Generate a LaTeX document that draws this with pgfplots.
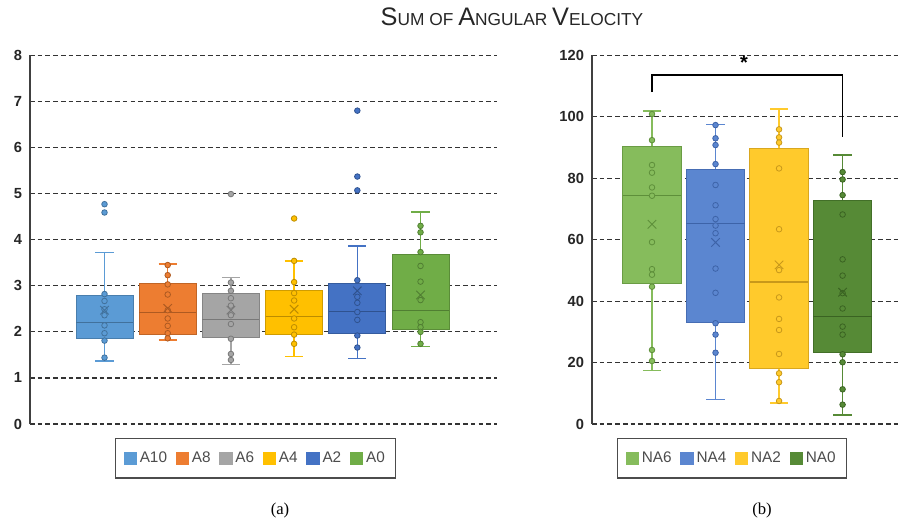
\documentclass[border=0pt]{standalone}
\usepackage{pgfplots}
\pgfplotsset{compat=1.18}
\usepgfplotslibrary{statistics}
\usepackage{fontspec}
\setmainfont{Liberation Sans}
\newfontfamily\timesfont{Liberation Serif}

\definecolor{cA10}{HTML}{5B9BD5}\definecolor{dA10}{HTML}{41719C}
\definecolor{cA8}{HTML}{ED7D31}\definecolor{dA8}{HTML}{AE5A21}
\definecolor{cA6}{HTML}{A5A5A5}\definecolor{dA6}{HTML}{787878}
\definecolor{cA4}{HTML}{FFC000}\definecolor{dA4}{HTML}{BC8C00}
\definecolor{cA2}{HTML}{4472C4}\definecolor{dA2}{HTML}{2F528F}
\definecolor{cA0}{HTML}{70AD47}\definecolor{dA0}{HTML}{507E32}
\definecolor{cNA6}{HTML}{86BC5C}\definecolor{dNA6}{HTML}{5E8F3A}
\definecolor{cNA4}{HTML}{5B86D0}\definecolor{dNA4}{HTML}{3D63A8}
\definecolor{cNA2}{HTML}{FFCA2C}\definecolor{dNA2}{HTML}{C8981A}
\definecolor{cNA0}{HTML}{568A36}\definecolor{dNA0}{HTML}{3A6322}

% pos, lw, lq, med, uq, uw, color, dark, box extend
\newcommand{\bp}[9]{%
 \addplot[forget plot, boxplot prepared={draw position=#1, lower whisker=#2, lower quartile=#3, median=#4, upper quartile=#5, upper whisker=#6, box extend=#9, whisker extend=0.29},
  boxplot/every box/.style={draw=#8!70!#7, fill=#7, line width=0.6pt},
  boxplot/every whisker/.style={draw=#7, line width=1.1pt},
  boxplot/every median/.style={draw=#8, line width=0.9pt}] coordinates {};
}

\pgfplotsset{
  common/.style={
    scale only axis, anchor=south west,
    height=276.5pt,
    ymin=0,
    boxplot/draw direction=y,
    xtick=\empty,
    axis x line=none,
    axis y line*=left,
    axis line style={black!75, line width=1.1pt, -},
    ymajorgrids,
    grid style={black!80, line width=0.9pt, dash pattern=on 3.5pt off 2.3pt},
    major tick length=0pt,
    /pgf/number format/assume math mode=true,
    tick label style={font=\fontsize{11}{13}\selectfont\bfseries, text=black!85},
    yticklabel style={xshift=-2.5pt},
    clip=false,
    legend image code/.code={\draw[##1] (0pt,-4.5pt) rectangle (9pt,4.5pt);},
    legend style={draw=black!70, line width=1.1pt, font=\fontsize{11.5}{13}\selectfont, text=black!70, inner xsep=6pt, inner ysep=8pt, anchor=north, /tikz/every even column/.append style={column sep=4.5pt}},
  },
  pts/.style 2 args={forget plot, only marks, mark=*, mark size=2.1pt, mark options={fill=#1, draw=#2, line width=0.6pt}},
  mn/.style={forget plot, only marks, mark=x, mark size=4.5pt, mark options={draw=#1, line width=0.7pt}},
}

\begin{document}
\begin{tikzpicture}
\useasboundingbox (0,0) rectangle (674.25pt,-393.75pt);

\node[anchor=base, text=black!85] at (384pt,-18.75pt) {\fontsize{19}{20}\selectfont S\fontsize{13}{14}\selectfont UM OF \fontsize{19}{20}\selectfont A\fontsize{13}{14}\selectfont NGULAR \fontsize{19}{20}\selectfont V\fontsize{13}{14}\selectfont ELOCITY};

\begin{axis}[common, at={(22.5pt,-318pt)}, width=350.25pt,
  xmin=-0.179, xmax=7.21, ymax=8, ytick={0,1,...,8},
  legend columns=6, legend style={at={(0.483,0)}, yshift=-10.5pt}]
\bp{1}{1.37}{1.85}{2.21}{2.80}{3.72}{cA10}{dA10}{0.9}
\addplot[pts={cA10}{dA10}] coordinates {(1,4.77) (1,4.59) (1,2.82) (1,2.67) (1,2.49) (1,2.36) (1,2.14) (1,1.97) (1,1.81) (1,1.44)};
\addplot[mn=dA10] coordinates {(1,2.47)};

\bp{2}{1.82}{1.94}{2.42}{3.05}{3.47}{cA8}{dA8}{0.9}
\addplot[pts={cA8}{dA8}] coordinates {(2,3.45) (2,3.23) (2,3.03) (2,2.81) (2,2.47) (2,2.29) (2,2.13) (2,1.97) (2,1.86)};
\addplot[mn=dA8] coordinates {(2,2.51)};

\bp{3}{1.29}{1.87}{2.27}{2.84}{3.18}{cA6}{dA6}{0.9}
\addplot[pts={cA6}{dA6}] coordinates {(3,4.99) (3,3.07) (3,2.89) (3,2.73) (3,2.57) (3,2.36) (3,2.17) (3,1.85) (3,1.52) (3,1.39)};
\addplot[mn=dA6] coordinates {(3,2.47)};

\bp{4}{1.46}{1.95}{2.33}{2.89}{3.54}{cA4}{dA4}{0.9}
\addplot[pts={cA4}{dA4}] coordinates {(4,4.46) (4,3.54) (4,3.08) (4,2.84) (4,2.68) (4,2.29) (4,2.10) (4,1.94) (4,1.74)};
\addplot[mn=dA4] coordinates {(4,2.49)};

\bp{5}{1.42}{1.96}{2.45}{3.06}{3.86}{cA2}{dA2}{0.9}
\addplot[pts={cA2}{dA2}] coordinates {(5,6.80) (5,5.37) (5,5.07) (5,3.12) (5,2.76) (5,2.63) (5,2.43) (5,2.26) (5,1.92) (5,1.66)};
\addplot[mn=dA2] coordinates {(5,2.89)};

\bp{6}{1.68}{2.05}{2.46}{3.68}{4.60}{cA0}{dA0}{0.9}
\addplot[pts={cA0}{dA0}] coordinates {(6,4.30) (6,4.16) (6,3.73) (6,3.43) (6,3.09) (6,2.69) (6,2.21) (6,2.10) (6,2.00) (6,1.74)};
\addplot[mn=dA0] coordinates {(6,2.80)};

\addlegendimage{fill=cA10, draw=cA10}\addlegendentry{A10}
\addlegendimage{fill=cA8, draw=cA8}\addlegendentry{A8}
\addlegendimage{fill=cA6, draw=cA6}\addlegendentry{A6}
\addlegendimage{fill=cA4, draw=cA4}\addlegendentry{A4}
\addlegendimage{fill=cA2, draw=cA2}\addlegendentry{A2}
\addlegendimage{fill=cA0, draw=cA0}\addlegendentry{A0}
\end{axis}

\begin{axis}[common, at={(444pt,-318pt)}, width=230.25pt,
  xmin=0.0556, xmax=4.888, ymax=120, ytick={0,20,...,120},
  legend columns=4, legend style={at={(0.456,0)}, yshift=-10.5pt}]
\bp{1}{17.4}{45.8}{74.4}{90.5}{101.9}{cNA6}{dNA6}{0.92}
\addplot[pts={cNA6}{dNA6}] coordinates {(1,100.9) (1,92.4) (1,84.3) (1,81.8) (1,77.0) (1,74.3) (1,59.2) (1,50.4) (1,48.6) (1,44.7) (1,24.1) (1,20.5)};
\addplot[mn=dNA6] coordinates {(1,65.0)};

\bp{2}{8.0}{33.0}{65.3}{82.9}{97.5}{cNA4}{dNA4}{0.92}
\addplot[pts={cNA4}{dNA4}] coordinates {(2,97.3) (2,93.0) (2,90.8) (2,84.6) (2,77.8) (2,71.2) (2,66.7) (2,64.6) (2,62.1) (2,50.6) (2,42.7) (2,32.8) (2,29.1) (2,23.2)};
\addplot[mn=dNA4] coordinates {(2,59.1)};

\bp{3}{6.9}{18.1}{46.2}{89.7}{102.5}{cNA2}{dNA2}{0.92}
\addplot[pts={cNA2}{dNA2}] coordinates {(3,95.9) (3,93.3) (3,91.6) (3,83.2) (3,63.4) (3,50.1) (3,41.2) (3,34.2) (3,30.6) (3,22.8) (3,16.5) (3,13.6) (3,7.5)};
\addplot[mn=dNA2] coordinates {(3,51.8)};

\bp{4}{3.0}{23.2}{35.0}{72.9}{87.6}{cNA0}{dNA0}{0.92}
\addplot[pts={cNA0}{dNA0}] coordinates {(4,82.0) (4,79.6) (4,74.5) (4,68.2) (4,53.6) (4,48.3) (4,42.6) (4,37.6) (4,31.7) (4,29.1) (4,22.7) (4,20.1) (4,11.3) (4,6.3)};
\addplot[mn=dNA0] coordinates {(4,42.9)};

\draw[line width=1.1pt, black] (axis cs:1,108) -- (axis cs:1,113.6) -- (axis cs:4,113.6) -- (axis cs:4,93.5);
\node[font=\fontsize{15}{15}\selectfont\bfseries] at (axis cs:2.45,117.7) {*};

\addlegendimage{fill=cNA6, draw=cNA6}\addlegendentry{NA6}
\addlegendimage{fill=cNA4, draw=cNA4}\addlegendentry{NA4}
\addlegendimage{fill=cNA2, draw=cNA2}\addlegendentry{NA2}
\addlegendimage{fill=cNA0, draw=cNA0}\addlegendentry{NA0}
\end{axis}

\node[font=\timesfont\fontsize{12.5}{14}\selectfont] at (210pt,-382.5pt) {(a)};
\node[font=\timesfont\fontsize{12.5}{14}\selectfont] at (571.5pt,-382.5pt) {(b)};
\end{tikzpicture}
\end{document}
